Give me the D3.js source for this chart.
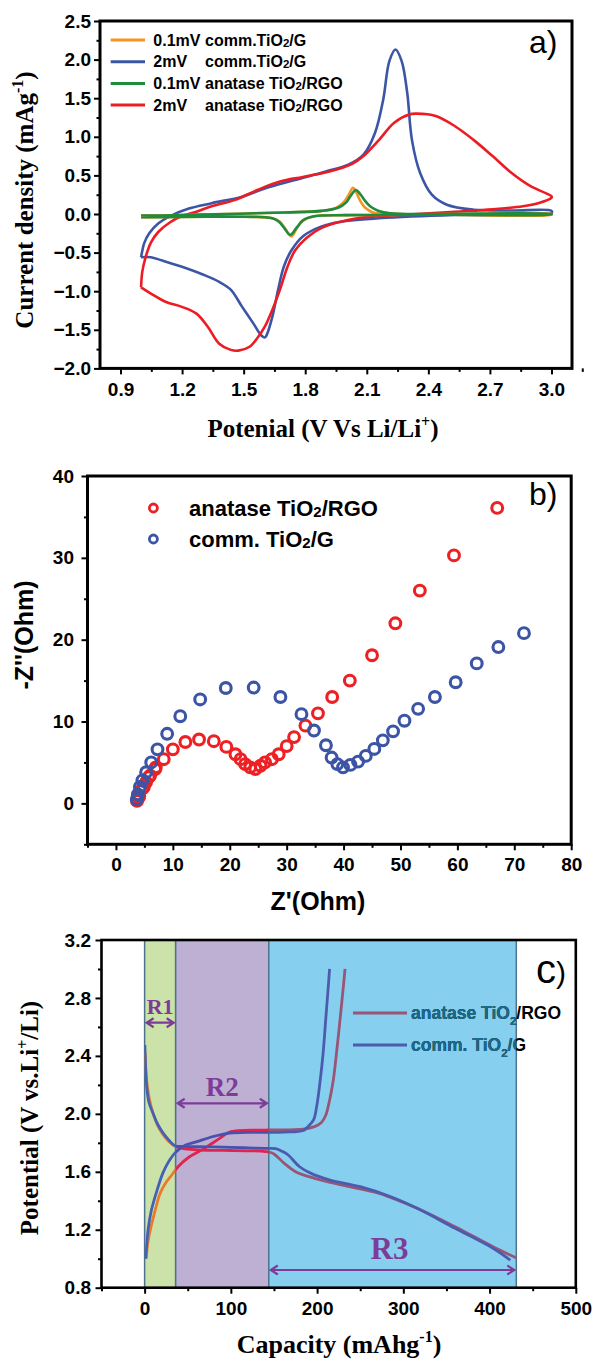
<!DOCTYPE html>
<html><head><meta charset="utf-8">
<script src="https://cdn.jsdelivr.net/npm/d3@7"></script>
<style>
body{margin:0;background:#fff;}
svg{display:block;}
</style></head><body>
<svg id="c" width="594" height="1366"></svg>
<script>
// ================= DATA =================
// Panel a: cyclic voltammetry (V, current density)
const cvRates = ["0.1mV", "2mV", "0.1mV", "2mV"];
const cvNames = ["comm.TiO2/G", "comm.TiO2/G", "anatase TiO2/RGO", "anatase TiO2/RGO"];
const cvColors = ["#f7941d", "#3c56a6", "#1f8b3d", "#ed1c24"];
const cvOrangeV = [1.0,1.1,1.418,1.7,1.88,1.95,1.99,2.01,2.033,2.045,2.066,2.093,2.13,2.25,2.6,3.0,3.0,2.5,2.0,1.844,1.788,1.76,1.733,1.705,1.677,1.64,1.418,1.0];
const cvOrangeI = [-0.02,-0.02,0.0,0.02,0.04,0.08,0.16,0.24,0.34,0.30,0.18,0.08,0.02,0.0,0.0,0.0,-0.01,-0.01,-0.015,-0.03,-0.09,-0.18,-0.29,-0.20,-0.10,-0.055,-0.035,-0.04];
const cvBlueV = [1.0,1.006,1.015,1.04,1.085,1.14,1.233,1.344,1.492,1.603,1.75,1.9,2.01,2.084,2.14,2.18,2.21,2.24,2.27,2.297,2.32,2.36,2.417,2.49,2.62,2.805,3.0,
  3.0,2.528,2.158,1.973,1.88,1.788,1.733,1.696,1.668,1.64,1.612,1.603,1.585,1.548,1.492,1.437,1.381,1.307,1.196,1.10,1.048,1.0];
const cvBlueI = [-0.56,-0.48,-0.38,-0.25,-0.12,-0.03,0.07,0.14,0.225,0.33,0.44,0.55,0.64,0.77,1.05,1.48,1.98,2.13,1.98,1.57,0.96,0.53,0.25,0.12,0.056,0.045,0.04,
  0.01,-0.013,-0.056,-0.10,-0.16,-0.29,-0.47,-0.68,-0.98,-1.33,-1.57,-1.60,-1.57,-1.42,-1.20,-0.98,-0.88,-0.79,-0.68,-0.60,-0.56,-0.56];
const cvGreenV = [1.0,1.1,1.418,1.7,1.88,1.96,2.0,2.025,2.047,2.07,2.095,2.121,2.158,2.214,2.4,3.0,3.0,2.5,2.0,1.844,1.79,1.76,1.727,1.70,1.672,1.64,1.418,1.0];
const cvGreenI = [-0.02,-0.02,0.0,0.02,0.04,0.08,0.15,0.25,0.31,0.25,0.16,0.09,0.04,0.01,0.0,0.0,-0.005,-0.01,-0.015,-0.03,-0.08,-0.17,-0.27,-0.19,-0.10,-0.055,-0.035,-0.04];
const cvRedV = [1.0,1.006,1.02,1.048,1.085,1.14,1.196,1.27,1.344,1.455,1.566,1.677,1.788,1.918,2.029,2.084,2.16,2.232,2.306,2.343,2.436,2.528,2.62,2.713,2.806,2.898,2.972,3.0,
  3.0,2.935,2.861,2.713,2.528,2.343,2.158,2.066,1.973,1.88,1.806,1.751,1.714,1.677,1.64,1.603,1.566,1.529,1.474,1.437,1.381,1.325,1.27,1.196,1.122,1.048,1.0];
const cvRedI = [-0.95,-0.75,-0.58,-0.37,-0.23,-0.11,-0.03,0.03,0.10,0.18,0.31,0.42,0.48,0.55,0.65,0.75,0.96,1.18,1.29,1.30,1.27,1.14,0.96,0.75,0.53,0.36,0.27,0.23,
  0.21,0.14,0.10,0.06,0.03,0.0,-0.03,-0.05,-0.10,-0.18,-0.31,-0.47,-0.68,-0.98,-1.24,-1.46,-1.61,-1.72,-1.77,-1.76,-1.68,-1.46,-1.29,-1.20,-1.14,-1.03,-0.95];
const cvXTicks = [0.9,1.2,1.5,1.8,2.1,2.4,2.7,3.0];
const cvYTicks = [-2.0,-1.5,-1.0,-0.5,0.0,0.5,1.0,1.5,2.0,2.5];

// Panel b: Nyquist plot (Z', -Z'')
const eisNames = ["anatase TiO2/RGO", "comm. TiO2/G"];
const eisColors = ["#ed2024", "#3b54a5"];
const eisRedX = [3.7,4.0,4.1,4.65,4.9,5.3,5.76,6.0,6.9,7.0,8.4,10.0,12.2,14.6,17.2,19.4,21.0,21.9,22.7,23.6,24.5,25.4,26.2,27.4,28.6,30.0,31.3,33.3,35.5,38.0,41.1,45.0,49.1,53.4,59.4,67.0];
const eisRedY = [0.3,0.7,0.9,1.8,2.0,2.6,3.2,3.4,4.2,4.4,5.4,6.6,7.5,7.8,7.6,6.9,6.0,5.4,4.8,4.4,4.2,4.6,5.0,5.4,6.0,7.0,8.1,9.5,11.0,13.0,15.0,18.1,22.0,26.0,30.3,36.1];
const eisBlueX = [3.66,3.86,4.2,4.65,5.3,6.2,7.3,9.0,11.3,14.8,19.3,24.2,28.9,32.6,34.8,36.9,37.9,38.9,39.9,41.2,42.55,43.9,45.4,46.9,48.7,50.7,53.1,56.05,59.7,63.4,67.2,71.7];
const eisBlueY = [0.5,1.1,2.0,2.8,3.8,5.0,6.6,8.5,10.65,12.7,14.1,14.15,13.0,10.9,8.9,7.1,5.6,4.8,4.4,4.7,5.1,5.8,6.65,7.7,8.8,10.1,11.55,13.0,14.8,17.1,19.1,20.8];
const eisXTicks = [0,10,20,30,40,50,60,70,80];
const eisYTicks = [0,10,20,30,40];

// Panel c: charge / discharge profiles (capacity, potential)
const gcNames = ["anatase TiO2/RGO", "comm. TiO2/G"];
const gcAnataseDisCap = [0.5,2,5,10,15,21,28,36,45,60,80,100,120,140,149,162,175,197,228,272,316,360,404,433];
const gcAnataseDisV = [2.42,2.25,2.12,2.0,1.92,1.86,1.81,1.775,1.76,1.752,1.748,1.747,1.745,1.74,1.727,1.658,1.601,1.555,1.509,1.451,1.348,1.221,1.083,1.0];
const gcAnataseChCap = [1.8,3.5,5.7,12.3,17.9,24,30,38.8,52,69.6,87,100,140,184,197,205,210,214,218.8,222.5,226.6,230,232.4];
const gcAnataseChV = [1.0,1.1,1.175,1.336,1.45,1.52,1.566,1.635,1.704,1.762,1.831,1.877,1.888,1.895,1.912,1.94,1.99,2.08,2.233,2.42,2.65,2.85,3.0];
const gcCommDisCap = [0.3,1,2.4,5,10,15,21.7,28,35,45,60,80,100,120,140,152,160,166.5,179.7,193,215,250,285.5,316,360,404,424];
const gcCommDisV = [2.475,2.35,2.19,2.08,2.0,1.93,1.865,1.82,1.78,1.775,1.773,1.772,1.769,1.765,1.762,1.76,1.74,1.716,1.635,1.589,1.543,1.497,1.428,1.348,1.21,1.072,0.99];
const gcCommChCap = [1.3,2.5,4,7.9,14.5,21,27.8,36.6,47.6,60.8,78.4,96,118,162,184,190,196,199.5,203,207,210,213,214.5];
const gcCommChV = [1.0,1.1,1.2,1.336,1.474,1.589,1.67,1.739,1.785,1.808,1.842,1.866,1.872,1.874,1.885,1.915,1.96,2.05,2.2,2.42,2.65,2.88,3.0];
const regionNames = ["R1", "R2", "R3"];
const regionStart = [0, 36, 144];
const regionEnd = [36, 144, 431];
const regionFills = ["#cbe3a8", "#bdb0d3", "#87cfef"];
const regionAnataseColors = ["#ec7a2c", "#e1244e", "#9a5475"];
const regionCommColors = ["#4561b6", "#4a50ad", "#4b5cae"];
const gcXTicks = [0,100,200,300,400,500];
const gcYTicks = [0.8,1.2,1.6,2.0,2.4,2.8,3.2];

// ================= DRAWING =================
const svg = d3.select("#c");
const SANS = "'Liberation Sans', Arial, sans-serif";
const SERIF = "'Liberation Serif', 'Times New Roman', serif";
const zip = (a, b) => a.map((v, i) => [v, b[i]]);

function addTiO2(t, str, subSize, subDy) {
  const i = str.indexOf("TiO2");
  if (i < 0) { t.append("tspan").text(str); return; }
  t.append("tspan").text(str.slice(0, i + 3));
  t.append("tspan").attr("font-size", subSize).attr("dy", subDy).text("2");
  t.append("tspan").attr("dy", -subDy).text(str.slice(i + 4));
}

function axes(g, x, y, o) {
  const [x0, x1] = x.range(), [yb, yt] = y.range();
  g.append("g").attr("transform", `translate(0,${yb})`)
    .call(d3.axisBottom(x).tickValues(o.xMajor).tickSize(6).tickPadding(o.xPad).tickFormat(o.xFmt));
  g.append("g").attr("transform", `translate(0,${yb})`)
    .call(d3.axisBottom(x).tickValues(o.xMinor).tickSize(3.5).tickFormat(""));
  g.append("g").attr("transform", `translate(${x0},0)`)
    .call(d3.axisLeft(y).tickValues(o.yMajor).tickSize(6).tickPadding(o.yPad).tickFormat(o.yFmt));
  g.append("g").attr("transform", `translate(${x0},0)`)
    .call(d3.axisLeft(y).tickValues(o.yMinor).tickSize(3.5).tickFormat(""));
  g.selectAll(".domain").remove();
  g.selectAll(".tick line").attr("stroke", "#000").attr("stroke-width", 2);
  g.selectAll(".tick text").attr("font-family", SANS).attr("font-weight", "bold")
    .attr("font-size", o.fs).attr("fill", "#000");
  g.append("rect").attr("x", x0).attr("y", yt).attr("width", x1 - x0).attr("height", yb - yt)
    .attr("fill", "none").attr("stroke", "#000").attr("stroke-width", o.frameW || 3);
}

// ---------- Panel a ----------
{
  const x = d3.scaleLinear().domain([0.8, 3.1]).range([100, 572]);
  const y = d3.scaleLinear().domain([-2.0, 2.5]).range([368.4, 21]);
  const g = svg.append("g");
  const line = d3.line().x(d => x(d[0])).y(d => y(d[1])).curve(d3.curveCatmullRom.alpha(0.5));
  const series = [zip(cvOrangeV, cvOrangeI), zip(cvBlueV, cvBlueI), zip(cvGreenV, cvGreenI), zip(cvRedV, cvRedI)];
  [1, 3, 0, 2].forEach(i => {
    g.append("path").attr("d", line(series[i])).attr("fill", "none")
      .attr("stroke", cvColors[i]).attr("stroke-width", 2.6).attr("stroke-linejoin", "round");
  });
  const minorX = d3.range(8).map(i => 1.05 + 0.3 * i);
  const minorY = d3.range(9).map(i => -1.75 + 0.5 * i);
  axes(g, x, y, { xMajor: cvXTicks, xMinor: minorX, yMajor: cvYTicks, yMinor: minorY,
    xFmt: d3.format(".1f"), yFmt: d3.format(".1f"), xPad: 8, yPad: 3, fs: 19 });
  cvRates.forEach((r, i) => {
    const cy = 40 + i * 21.7;
    g.append("line").attr("x1", 110.7).attr("x2", 145).attr("y1", cy).attr("y2", cy)
      .attr("stroke", cvColors[i]).attr("stroke-width", 3);
    g.append("text").attr("x", 153.3).attr("y", cy + 5.7).attr("font-family", SANS)
      .attr("font-weight", "bold").attr("font-size", 16).text(r);
    const t = g.append("text").attr("x", 205).attr("y", cy + 5.7).attr("font-family", SANS)
      .attr("font-weight", "bold").attr("font-size", 16);
    addTiO2(t, cvNames[i], 11.5, 1);
  });
  g.append("text").attr("x", 529).attr("y", 53).attr("font-family", SANS).attr("font-size", 32).text("a)");
  const xt = g.append("text").attr("x", 323).attr("y", 437).attr("text-anchor", "middle")
    .attr("font-family", SERIF).attr("font-weight", "bold").attr("font-size", 25);
  xt.append("tspan").text("Potenial (V Vs Li/Li");
  xt.append("tspan").attr("font-size", 16).attr("dy", -10).text("+");
  xt.append("tspan").attr("dy", 10).text(")");
  const yt = g.append("text").attr("transform", "translate(33,200) rotate(-90)").attr("text-anchor", "middle")
    .attr("font-family", SERIF).attr("font-weight", "bold").attr("font-size", 25);
  yt.append("tspan").text("Current density (mAg");
  yt.append("tspan").attr("font-size", 16).attr("dy", -10).text("-1");
  yt.append("tspan").attr("dy", 10).text(")");
}

// ---------- Panel b ----------
{
  const x = d3.scaleLinear().domain([-5, 80]).range([87.5, 571.2]);
  const y = d3.scaleLinear().domain([-5, 40]).range([844.3, 476]);
  const g = svg.append("g");
  const red = zip(eisRedX, eisRedY), blue = zip(eisBlueX, eisBlueY);
  [red, blue].forEach((s, k) => {
    g.append("g").selectAll("circle").data(s).join("circle")
      .attr("cx", d => x(d[0])).attr("cy", d => y(d[1])).attr("r", 5.4)
      .attr("fill", "none").attr("stroke", eisColors[k]).attr("stroke-width", 3.1);
  });
  axes(g, x, y, { xMajor: eisXTicks, xMinor: [-5,5,15,25,35,45,55,65,75], yMajor: eisYTicks, yMinor: [-5,5,15,25,35],
    xFmt: d3.format("d"), yFmt: d3.format("d"), xPad: 7.5, yPad: 7.5, fs: 19 });
  eisNames.forEach((n, i) => {
    const cy = 508 + i * 31;
    g.append("circle").attr("cx", 153.4).attr("cy", cy).attr("r", 4).attr("fill", "none")
      .attr("stroke", eisColors[i]).attr("stroke-width", 2.8);
    const t = g.append("text").attr("x", 189).attr("y", cy + 8).attr("font-family", SANS)
      .attr("font-weight", "bold").attr("font-size", 22);
    addTiO2(t, n, 15, 1);
  });
  g.append("text").attr("x", 529).attr("y", 505).attr("font-family", SANS).attr("font-size", 32).text("b)");
  g.append("text").attr("x", 318).attr("y", 910).attr("text-anchor", "middle").attr("font-family", SANS)
    .attr("font-weight", "bold").attr("font-size", 25).text("Z'(Ohm)");
  g.append("text").attr("transform", "translate(33,635) rotate(-90)").attr("text-anchor", "middle")
    .attr("font-family", SANS).attr("font-weight", "bold").attr("font-size", 25).text("-Z''(Ohm)");
}

// ---------- Panel c ----------
{
  const x = d3.scaleLinear().domain([-50, 500]).range([101.5, 575.8]);
  const y = d3.scaleLinear().domain([0.8, 3.2]).range([1287.7, 940]);
  const g = svg.append("g");
  const defs = svg.append("defs");
  regionNames.forEach((r, i) => {
    g.append("rect").attr("x", x(regionStart[i])).attr("y", y(3.2))
      .attr("width", x(regionEnd[i]) - x(regionStart[i])).attr("height", y(0.8) - y(3.2))
      .attr("fill", regionFills[i]).attr("stroke", "#4d7390").attr("stroke-width", 1.5);
    defs.append("clipPath").attr("id", "reg" + i).append("rect")
      .attr("x", x(regionStart[i])).attr("y", y(3.2))
      .attr("width", x(regionEnd[i]) - x(regionStart[i])).attr("height", y(0.8) - y(3.2));
  });
  const line = d3.line().x(d => x(d[0])).y(d => y(d[1])).curve(d3.curveCatmullRom.alpha(0.5));
  const anDis = zip(gcAnataseDisCap, gcAnataseDisV), anCh = zip(gcAnataseChCap, gcAnataseChV);
  const coDis = zip(gcCommDisCap, gcCommDisV), coCh = zip(gcCommChCap, gcCommChV);
  regionNames.forEach((r, i) => {
    const cg = g.append("g").attr("clip-path", `url(#reg${i})`);
    [anDis, anCh].forEach(s => cg.append("path").attr("d", line(s)).attr("fill", "none")
      .attr("stroke", regionAnataseColors[i]).attr("stroke-width", 2.8));
    [coDis, coCh].forEach(s => cg.append("path").attr("d", line(s)).attr("fill", "none")
      .attr("stroke", regionCommColors[i]).attr("stroke-width", 2.8));
  });
  const arrowY = [1022.7, 1103.3, 1270];
  const labelY = [1014, 1096, 1259];
  const labelFs = [22, 27, 31];
  const purple = "#7d3c98";
  regionNames.forEach((r, i) => {
    const a = x(regionStart[i]) + 2, b = x(regionEnd[i]) - 2, yy = arrowY[i];
    g.append("path").attr("d", `M${a},${yy}H${b}M${a + 7},${yy - 4.5}L${a},${yy}L${a + 7},${yy + 4.5}M${b - 7},${yy - 4.5}L${b},${yy}L${b - 7},${yy + 4.5}`)
      .attr("fill", "none").attr("stroke", purple).attr("stroke-width", 2.2);
    g.append("text").attr("x", (x(regionStart[i]) + x(regionEnd[i])) / 2 + (i === 2 ? -3 : 0)).attr("y", labelY[i])
      .attr("text-anchor", "middle").attr("font-family", SERIF).attr("font-weight", "bold")
      .attr("font-size", labelFs[i]).attr("fill", purple).text(r);
  });
  axes(g, x, y, { xMajor: gcXTicks, xMinor: [-50,50,150,250,350,450], yMajor: gcYTicks, yMinor: [1.0,1.4,1.8,2.2,2.6,3.0],
    xFmt: d3.format("d"), yFmt: d3.format(".1f"), xPad: 8, yPad: 4.5, fs: 19, frameW: 2.6 });
  const legColors = ["#9a5475", "#4b5cae"];
  defs.append("clipPath").attr("id", "legclip").append("rect")
    .attr("x", x(regionStart[2])).attr("y", y(3.2)).attr("width", x(regionEnd[2]) - x(regionStart[2])).attr("height", y(0.8) - y(3.2));
  gcNames.forEach((n, i) => {
    const cy = 1013 + i * 32;
    g.append("line").attr("x1", 353).attr("x2", 407).attr("y1", cy).attr("y2", cy)
      .attr("stroke", legColors[i]).attr("stroke-width", 3);
    ["#000", "#1b6a8a"].forEach((col, k) => {
      const t = g.append("text").attr("x", 411).attr("y", cy + 6.3).attr("font-family", SANS)
        .attr("font-weight", "bold").attr("font-size", 17.5).attr("fill", col);
      if (k === 1) t.attr("clip-path", "url(#legclip)");
      addTiO2(t, n, 11.5, 6);
    });
  });
  const ct = g.append("text").attr("x", 536).attr("y", 983).attr("font-family", SANS).attr("font-size", 30);
  ct.append("tspan").attr("font-size", 40).text("c");
  ct.append("tspan").text(")");
  const xt = g.append("text").attr("x", 339).attr("y", 1353).attr("text-anchor", "middle")
    .attr("font-family", SERIF).attr("font-weight", "bold").attr("font-size", 26);
  xt.append("tspan").text("Capacity (mAhg");
  xt.append("tspan").attr("font-size", 16).attr("dy", -11).text("-1");
  xt.append("tspan").attr("dy", 11).text(")");
  const yt = g.append("text").attr("transform", "translate(38,1118) rotate(-90)").attr("text-anchor", "middle")
    .attr("font-family", SERIF).attr("font-weight", "bold").attr("font-size", 25);
  yt.append("tspan").text("Potential (V vs.Li");
  yt.append("tspan").attr("font-size", 16).attr("dy", -10).text("+");
  yt.append("tspan").attr("dy", 10).text("/Li)");
}
</script>
</body></html>
